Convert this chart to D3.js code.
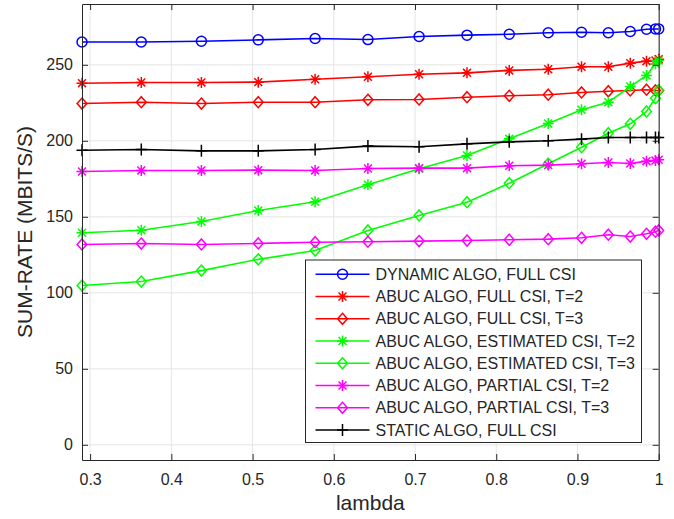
<!DOCTYPE html>
<html>
<head>
<meta charset="utf-8">
<script src="https://cdn.jsdelivr.net/npm/d3@7"></script>
<style>
  body { margin: 0; background: #fff; }
  svg text { font-family: "Liberation Sans", Arial, sans-serif; fill: #262626; }
</style>
</head>
<body>
<div id="chart"></div>
<script>
// lambda values (x) and sum-rate series
const lambda = [0.290, 0.363, 0.437, 0.507, 0.577, 0.642, 0.705, 0.764, 0.816, 0.864, 0.905, 0.938, 0.965, 0.985, 0.996, 1.0];

const dynamicFull   = [265.0, 265.0, 265.5, 266.4, 267.3, 266.6, 268.6, 269.5, 270.1, 271.1, 271.4, 271.1, 271.9, 273.4, 273.6, 273.6];
const abucFullT2    = [237.9, 238.4, 238.4, 238.6, 240.5, 242.1, 243.8, 244.7, 246.3, 247.1, 248.7, 248.7, 251.1, 252.4, 252.8, 253.7];
const abucFullT3    = [224.5, 225.4, 224.5, 225.4, 225.4, 227.0, 227.2, 228.7, 229.6, 230.3, 231.8, 232.6, 233.1, 233.6, 233.1, 233.1];
const abucEstT2     = [139.5, 141.2, 146.9, 154.1, 159.9, 171.1, 181.6, 190.3, 201.3, 211.4, 220.4, 225.4, 235.7, 243.0, 250.7, 252.8];
const abucEstT3     = [104.8, 107.4, 114.6, 122.0, 127.8, 141.0, 150.9, 159.6, 172.1, 184.9, 195.8, 205.0, 211.2, 219.3, 228.0, 233.1];
const abucPartT2    = [179.8, 180.5, 180.5, 180.7, 180.5, 181.8, 182.0, 182.0, 183.6, 184.0, 184.9, 185.7, 185.1, 186.6, 187.0, 187.5];
const abucPartT3    = [131.8, 132.4, 131.8, 132.5, 133.3, 133.6, 134.0, 134.4, 134.9, 135.3, 136.2, 138.2, 137.0, 138.8, 140.2, 141.0];
const staticFull    = [193.8, 194.3, 193.4, 193.4, 194.3, 196.5, 196.1, 198.0, 199.3, 200.0, 201.1, 202.2, 202.2, 202.2, 202.2, 202.2];

const xTicks = [0.3, 0.4, 0.5, 0.6, 0.7, 0.8, 0.9, 1];
const yTicks = [0, 50, 100, 150, 200, 250];

const series = [
  {name: "DYNAMIC ALGO, FULL CSI",             values: dynamicFull, color: "#0000ff", marker: "circle"},
  {name: "ABUC ALGO, FULL CSI, T=2",           values: abucFullT2,  color: "#ff0000", marker: "star"},
  {name: "ABUC ALGO, FULL CSI, T=3",           values: abucFullT3,  color: "#ff0000", marker: "diamond"},
  {name: "ABUC ALGO, ESTIMATED CSI, T=2",      values: abucEstT2,   color: "#00ff00", marker: "star"},
  {name: "ABUC ALGO, ESTIMATED CSI, T=3",      values: abucEstT3,   color: "#00ff00", marker: "diamond"},
  {name: "ABUC ALGO, PARTIAL CSI, T=2",        values: abucPartT2,  color: "#ff00ff", marker: "star"},
  {name: "ABUC ALGO, PARTIAL CSI, T=3",        values: abucPartT3,  color: "#ff00ff", marker: "diamond"},
  {name: "STATIC ALGO, FULL CSI",              values: staticFull,  color: "#000000", marker: "plus"}
];

const width = 674, height = 519;
const margin = {left: 82, right: 674 - 658.7, top: 4, bottom: 519 - 460};

const svg = d3.select("#chart").append("svg")
  .attr("width", width).attr("height", height);

const x = d3.scaleLinear().domain([0.29, 1]).range([margin.left, width - margin.right]);
const y = d3.scaleLinear().domain([-10, 290]).range([height - margin.bottom, margin.top]);

const axisColor = "#262626";

// grid
const grid = svg.append("g").attr("stroke", "#e5e5e5").attr("stroke-width", 1);
grid.selectAll(".gx").data(xTicks).join("line")
  .attr("x1", d => x(d)).attr("x2", d => x(d))
  .attr("y1", y.range()[0]).attr("y2", y.range()[1]);
grid.selectAll(".gy").data(yTicks).join("line")
  .attr("y1", d => y(d)).attr("y2", d => y(d))
  .attr("x1", x.range()[0]).attr("x2", x.range()[1]);

// lines and markers
const line = d3.line().x((d, i) => x(lambda[i])).y(d => y(d));

function drawMarker(g, type, color) {
  const s = 5.5;
  if (type === "circle") {
    g.append("circle").attr("r", 5).attr("fill", "none").attr("stroke", color).attr("stroke-width", 1.5);
  } else if (type === "diamond") {
    g.append("path").attr("d", `M0,${-s}L${s-0.6},0L0,${s}L${-(s-0.6)},0Z`)
      .attr("fill", "none").attr("stroke", color).attr("stroke-width", 1.5);
  } else if (type === "star") {
    const d = s * 0.72;
    g.append("path").attr("d", `M0,${-s}V${s}M${-s},0H${s}M${-d},${-d}L${d},${d}M${-d},${d}L${d},${-d}`)
      .attr("stroke", color).attr("stroke-width", 1.5);
  } else if (type === "plus") {
    g.append("path").attr("d", `M0,${-s - 0.5}V${s + 0.5}M${-s},0H${s}`)
      .attr("stroke", color).attr("stroke-width", 1.5);
  }
}

const plot = svg.append("g");
series.forEach(s => {
  plot.append("path").datum(s.values)
    .attr("fill", "none").attr("stroke", s.color).attr("stroke-width", 1.6)
    .attr("d", line);
  s.values.forEach((v, i) => {
    const g = plot.append("g").attr("transform", `translate(${x(lambda[i])},${y(v)})`);
    drawMarker(g, s.marker, s.color);
  });
});

// axes box (MATLAB style: ticks inside, box on)
const tickLen = 6;
const xAxisB = d3.axisBottom(x).tickValues(xTicks).tickSizeInner(-tickLen).tickSizeOuter(0).tickPadding(14)
  .tickFormat(d => d === 1 ? "1" : d3.format(".1f")(d));
const xAxisT = d3.axisTop(x).tickValues(xTicks).tickSizeInner(-tickLen).tickSizeOuter(0).tickFormat("");
const yAxisL = d3.axisLeft(y).tickValues(yTicks).tickSizeInner(-tickLen).tickSizeOuter(0).tickPadding(9);
const yAxisR = d3.axisRight(y).tickValues(yTicks).tickSizeInner(-tickLen).tickSizeOuter(0).tickFormat("");

function styleAxis(g) {
  g.selectAll("path").attr("stroke", axisColor).attr("stroke-width", 1);
  g.selectAll("line").attr("stroke", axisColor).attr("stroke-width", 1);
  g.selectAll("text").attr("fill", axisColor).style("font-size", "16px")
    .style("font-family", "'Liberation Sans', Arial, sans-serif");
}

svg.append("g").attr("transform", `translate(0,${y.range()[0]})`).call(xAxisB).call(styleAxis);
svg.append("g").attr("transform", `translate(0,${y.range()[1]})`).call(xAxisT).call(styleAxis);
svg.append("g").attr("transform", `translate(${x.range()[0]},0)`).call(yAxisL).call(styleAxis);
svg.append("g").attr("transform", `translate(${x.range()[1]},0)`).call(yAxisR).call(styleAxis);

// axis labels
svg.append("text").attr("x", (x.range()[0] + x.range()[1]) / 2).attr("y", 510)
  .attr("text-anchor", "middle").style("font-size", "21px").text("lambda");
svg.append("text").attr("transform", `translate(32,${(y.range()[0] + y.range()[1]) / 2}) rotate(-90)`)
  .attr("text-anchor", "middle").style("font-size", "21px").text("SUM-RATE (MBITS/S)");

// legend
const lg = svg.append("g").attr("transform", "translate(305.5,260)");
const rowH = 22.25;
lg.append("rect").attr("width", 336).attr("height", 182.5)
  .attr("fill", "#fff").attr("stroke", axisColor).attr("stroke-width", 1);
series.forEach((s, i) => {
  const row = lg.append("g").attr("transform", `translate(0,${14.3 + i * rowH})`);
  row.append("line").attr("x1", 10).attr("x2", 64).attr("stroke", s.color).attr("stroke-width", 1.6);
  const m = row.append("g").attr("transform", "translate(37,0)");
  drawMarker(m, s.marker, s.color);
  row.append("text").attr("x", 70).attr("y", 5.5).style("font-size", "16px").attr("fill", "#000").text(s.name);
});
</script>
</body>
</html>
